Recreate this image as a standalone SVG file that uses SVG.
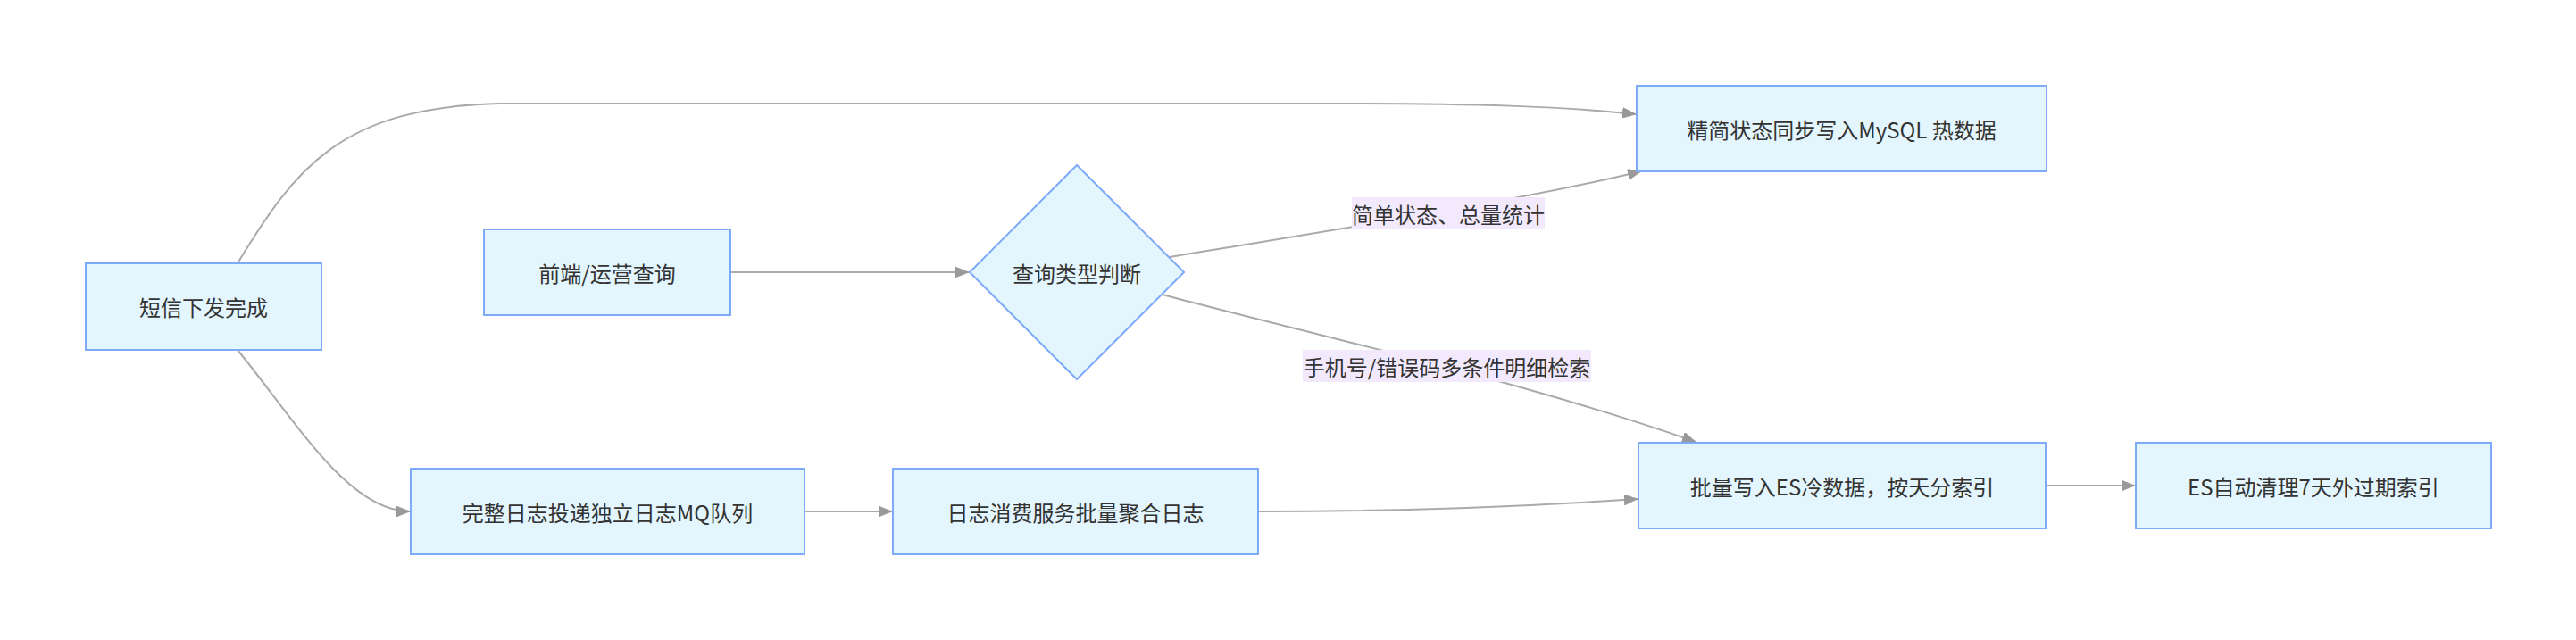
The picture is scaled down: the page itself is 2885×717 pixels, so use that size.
<svg xmlns="http://www.w3.org/2000/svg" width="2885" height="717" viewBox="0 0 2885 717">
<defs>
<marker id="arrow" viewBox="0 0 10 10" markerUnits="userSpaceOnUse" markerWidth="15" markerHeight="12" refX="10" refY="5" orient="auto" preserveAspectRatio="none">
<path d="M0,0 L10,5 L0,10 z" fill="#999" stroke="#999" stroke-width="0.5"/>
</marker>
</defs>
<style>
.node rect, .node polygon { fill: #e3f5fd; stroke: #7eaaf8; stroke-width: 2; }
.node text, .lbl text { font-family: "Noto Sans CJK SC", "Noto Sans", sans-serif; font-size: 24px; fill: #333; text-anchor: middle; dominant-baseline: central; }
.edges path { fill: none; stroke: #aaa; stroke-width: 2; marker-end: url(#arrow); }
.lbl rect { fill: #f2eafc; }
</style>
<rect width="2885" height="717" fill="#ffffff"/>
<g id="edges" class="edges">
<path d="M266,295 C330,190 380,120 560,116 L1500,116 C1650,116 1750,119 1832,128"/>
<path d="M266,392 C330,470 390,573 459,573"/>
<path d="M818,305 L1085,305"/>
<path d="M1310,288 C1480,260 1700,225 1838,192"/>
<path d="M1302,330 C1450,370 1700,425 1899,495"/>
<path d="M901,573 L999,573"/>
<path d="M1409,573 C1550,573 1700,568 1834,559"/>
<path d="M2291,544 L2391,544"/>
</g>
<g id="label-simple" class="lbl">
<rect x="1514" y="221" width="216" height="36"/>
<text x="1622" y="239">简单状态、总量统计</text>
</g>
<g id="label-detail" class="lbl">
<rect x="1459" y="392" width="323" height="36"/>
<text x="1620.5" y="410">手机号/错误码多条件明细检索</text>
</g>
<g id="n-sms" class="node">
<rect x="96" y="295" width="264" height="97"/>
<text x="228" y="343.5">短信下发完成</text>
</g>
<g id="n-query" class="node">
<rect x="542" y="257" width="276" height="96"/>
<text x="680" y="305">前端/运营查询</text>
</g>
<g id="n-decide" class="node">
<polygon points="1206,185 1326,305 1206,425 1086,305"/>
<text x="1206" y="305">查询类型判断</text>
</g>
<g id="n-mysql" class="node">
<rect x="1833" y="96" width="459" height="96"/>
<text x="2062.5" y="144">精简状态同步写入MySQL 热数据</text>
</g>
<g id="n-mq" class="node">
<rect x="460" y="525" width="441" height="96"/>
<text x="680.5" y="573">完整日志投递独立日志MQ队列</text>
</g>
<g id="n-consumer" class="node">
<rect x="1000" y="525" width="409" height="96"/>
<text x="1204.5" y="573">日志消费服务批量聚合日志</text>
</g>
<g id="n-es" class="node">
<rect x="1835" y="496" width="456" height="96"/>
<text x="2063" y="544">批量写入ES冷数据，按天分索引</text>
</g>
<g id="n-clean" class="node">
<rect x="2392" y="496" width="398" height="96"/>
<text x="2591" y="544">ES自动清理7天外过期索引</text>
</g>
</svg>
